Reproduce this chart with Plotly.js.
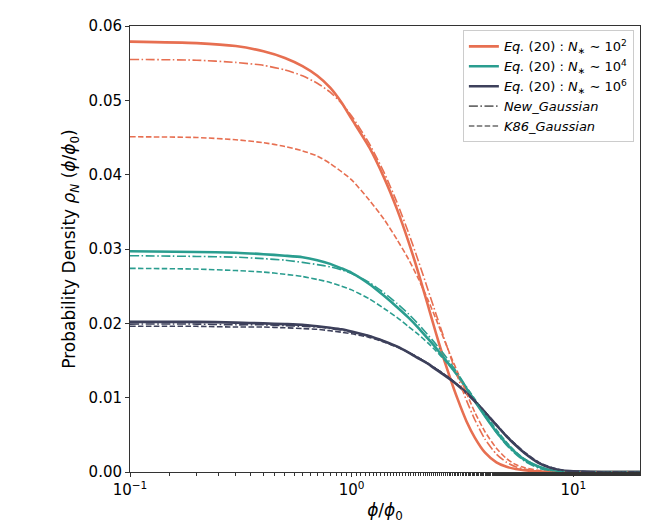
<!DOCTYPE html>
<html>
<head>
<meta charset="utf-8">
<script src="https://cdn.plot.ly/plotly-3.0.1.min.js"></script>
<style>
  html, body { margin: 0; padding: 0; background: #fff; }
  #plot { width: 654px; height: 524px; }
</style>
</head>
<body>
<div id="plot"></div>
<script>
// phi / phi_0 sample points
var phi = [0.1, 0.2, 0.3, 0.4, 0.5, 0.6, 0.7, 0.8, 0.9, 1.0, 1.2, 1.4, 1.6, 1.8, 2.0, 2.2, 2.4, 2.6, 2.8, 3.0,
           3.3, 3.6, 4.0, 4.5, 5.0, 5.5, 6.0, 7.0, 8.0, 9.0, 10, 12, 15, 20];

// N* ~ 1e2
var eq_n2 = [0.0579, 0.0577, 0.0573, 0.0566, 0.0557, 0.0546, 0.0533, 0.0517, 0.0497, 0.0475, 0.0437, 0.0396,
             0.0354, 0.0311, 0.0268, 0.0226, 0.0187, 0.0153, 0.0124, 0.0099, 0.0068, 0.0046, 0.0026, 0.0013,
             0.0007, 0.0004, 0.00024, 0.00007, 0.00001, 0, 0, 0, 0, 0];
var new_n2 = [0.0555, 0.0554, 0.0551, 0.0547, 0.0541, 0.0533, 0.0523, 0.0511, 0.0496, 0.0479, 0.0442, 0.0403,
              0.0363, 0.0323, 0.0284, 0.0247, 0.0213, 0.0182, 0.0154, 0.0129, 0.0096, 0.0070, 0.0044, 0.0024,
              0.0013, 0.0007, 0.0004, 0.0001, 0.00003, 0, 0, 0, 0, 0];
var k86_n2 = [0.0451, 0.0450, 0.0447, 0.0443, 0.0438, 0.0432, 0.0425, 0.0415, 0.0404, 0.0393, 0.0366, 0.0340,
              0.0313, 0.0287, 0.0260, 0.0233, 0.0206, 0.0180, 0.0156, 0.0135, 0.0106, 0.0080, 0.0054, 0.0032,
              0.0018, 0.0010, 0.0006, 0.0002, 0.0001, 0.00003, 0, 0, 0, 0];

// N* ~ 1e4
var eq_n4 = [0.0297, 0.0296, 0.0295, 0.0293, 0.0291, 0.0289, 0.0285, 0.0280, 0.0274, 0.0268, 0.0253, 0.0237,
             0.0222, 0.0208, 0.0194, 0.0180, 0.0167, 0.0154, 0.0142, 0.0130, 0.0112, 0.0095, 0.0075, 0.0054,
             0.0038, 0.0026, 0.0017, 0.0007, 0.0002, 0.0001, 0.00003, 0, 0, 0];
var new_n4 = [0.0291, 0.0290, 0.0289, 0.0287, 0.0285, 0.0282, 0.0279, 0.0276, 0.0272, 0.0267, 0.0255, 0.0241,
              0.0227, 0.0213, 0.0199, 0.0185, 0.0172, 0.0159, 0.0146, 0.0133, 0.0114, 0.0096, 0.0075, 0.0053,
              0.0036, 0.0024, 0.0015, 0.0005, 0.0002, 0.00005, 0, 0, 0, 0];
var k86_n4 = [0.0274, 0.0273, 0.0271, 0.0269, 0.0266, 0.0263, 0.0259, 0.0255, 0.0250, 0.0245, 0.0233, 0.0220,
              0.0208, 0.0196, 0.0185, 0.0174, 0.0163, 0.0152, 0.0141, 0.0130, 0.0114, 0.0098, 0.0078, 0.0057,
              0.0040, 0.0027, 0.0018, 0.0007, 0.0002, 0.0001, 0.00003, 0, 0, 0];

// N* ~ 1e6
var eq_n6 = [0.0202, 0.0202, 0.0201, 0.0200, 0.0199, 0.0198, 0.0196, 0.0194, 0.0192, 0.0189, 0.0183, 0.0176,
             0.0169, 0.0161, 0.0153, 0.0146, 0.0138, 0.0131, 0.0124, 0.0117, 0.0106, 0.0095, 0.0080, 0.0063,
             0.0048, 0.0036, 0.0026, 0.0012, 0.0005, 0.0002, 0.0001, 0.00002, 0, 0];
var new_n6 = [0.0199, 0.0199, 0.0198, 0.0198, 0.0197, 0.0196, 0.0195, 0.0193, 0.0191, 0.0188, 0.0183, 0.0176,
              0.0169, 0.0161, 0.0154, 0.0146, 0.0139, 0.0132, 0.0125, 0.0118, 0.0107, 0.0096, 0.0081, 0.0063,
              0.0048, 0.0036, 0.0026, 0.0012, 0.0005, 0.0002, 0.0001, 0.00002, 0, 0];
var k86_n6 = [0.0196, 0.0196, 0.0195, 0.0195, 0.0194, 0.0193, 0.0192, 0.0190, 0.0188, 0.0186, 0.0181, 0.0175,
              0.0168, 0.0161, 0.0154, 0.0146, 0.0139, 0.0132, 0.0125, 0.0118, 0.0107, 0.0096, 0.0081, 0.0064,
              0.0049, 0.0037, 0.0027, 0.0013, 0.0006, 0.0002, 0.0001, 0.00002, 0, 0];

var xTickVals = [0.1, 1, 10];
var xTickText = ['10<sup>\u22121</sup>', '10<sup>0</sup>', '10<sup>1</sup>'];
var yTickVals = [0, 0.01, 0.02, 0.03, 0.04, 0.05, 0.06];

var red = '#e76f51', teal = '#2a9d8f', navy = '#3d405b', grey = '#6b6b6b';
var dashDot = '9px,2.5px,1.6px,2.5px';
var dashed = '5.5px,2.4px';

function eqLabel(p) {
  return '<i>Eq.</i> (20) : <i>N</i><sub>\u2217</sub> \u223c 10<sup>' + p + '</sup>';
}

function line(y, color, dash, width, name, legend) {
  return {
    x: phi, y: y, type: 'scatter', mode: 'lines',
    name: name || '', showlegend: !!legend,
    line: {color: color, width: width, dash: dash, shape: 'spline', smoothing: 0.6},
    hoverinfo: 'skip'
  };
}

var traces = [
  line(eq_n2, red, 'solid', 2.6, eqLabel(2), true),
  line(eq_n4, teal, 'solid', 2.6, eqLabel(4), true),
  line(eq_n6, navy, 'solid', 2.6, eqLabel(6), true),
  line(new_n2, red, dashDot, 1.6),
  line(k86_n2, red, dashed, 1.6),
  line(new_n4, teal, dashDot, 1.6),
  line(k86_n4, teal, dashed, 1.6),
  line(new_n6, navy, dashDot, 1.6),
  line(k86_n6, navy, dashed, 1.6),
  // legend-only entries for the line styles
  {x: [null], y: [null], type: 'scatter', mode: 'lines', name: '<i>New_Gaussian</i>',
   line: {color: grey, width: 1.6, dash: dashDot}},
  {x: [null], y: [null], type: 'scatter', mode: 'lines', name: '<i>K86_Gaussian</i>',
   line: {color: grey, width: 1.6, dash: dashed}}
];

var layout = {
  width: 654, height: 524,
  margin: {l: 130, r: 14, t: 26, b: 52},
  paper_bgcolor: '#fff', plot_bgcolor: '#fff',
  font: {family: 'DejaVu Sans', size: 15, color: '#000'},
  showlegend: true,
  legend: {
    x: 0.988, y: 0.99, xanchor: 'right', yanchor: 'top',
    bgcolor: 'rgba(255,255,255,0.85)', bordercolor: '#cccccc', borderwidth: 1,
    font: {family: 'DejaVu Sans', size: 13, color: '#000'},
    tracegroupgap: 0, itemwidth: 30
  },
  xaxis: {
    type: 'log', range: [-1, Math.log10(20)],
    tickvals: xTickVals, ticktext: xTickText,
    ticks: 'outside', ticklen: 4, tickwidth: 1, tickcolor: '#333',
    minor: {ticks: 'outside', ticklen: 2.5, tickcolor: '#333', showgrid: false},
    showline: true, linecolor: '#333', linewidth: 1, mirror: true,
    showgrid: false, zeroline: false,
    title: {text: '<i>\u03d5</i>/<i>\u03d5</i><sub>0</sub>', font: {size: 17}, standoff: 6}
  },
  yaxis: {
    range: [0, 0.06], tickvals: yTickVals, tickformat: '.2f',
    ticks: 'outside', ticklen: 4, tickwidth: 1, tickcolor: '#333',
    showline: true, linecolor: '#333', linewidth: 1, mirror: true,
    showgrid: false, zeroline: false,
    title: {text: 'Probability Density <i>\u03c1</i><sub><i>N</i></sub> (<i>\u03d5</i>/<i>\u03d5</i><sub>0</sub>)',
            font: {size: 17}, standoff: 8}
  }
};

Plotly.newPlot('plot', traces, layout, {staticPlot: true, displayModeBar: false});
</script>
</body>
</html>
